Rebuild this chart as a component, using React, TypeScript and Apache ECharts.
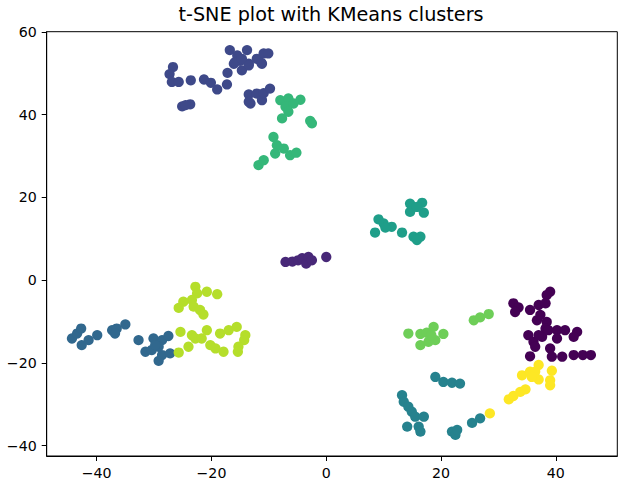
import React, { useEffect, useRef } from "react";
import * as echarts from "echarts";

const titleText = "t-SNE plot with KMeans clusters";
const xTicks = [-40, -20, 0, 20, 40];
const yTicks = [-40, -20, 0, 20, 40, 60];
const clusterColors = [
  "#440154", "#482878", "#3e4989", "#31688e", "#26828e",
  "#1f9e89", "#35b779", "#6ece58", "#b5de2b", "#fde725",
];

const cluster0 = [
  [39.0, -2.8], [38.4, -3.6], [32.6, -5.6], [33.5, -6.6], [32.9, -7.7], [35.5, -7.2],
  [37.0, -6.0], [38.2, -5.6], [36.7, -9.7], [38.4, -10.1], [38.2, -11.7], [35.2, -13.3],
  [36.1, -14.9], [36.4, -16.1], [35.5, -18.4], [37.6, -13.7], [38.7, -12.1], [40.2, -12.1],
  [40.2, -14.1], [41.6, -12.1], [43.7, -12.5], [43.1, -13.7], [39.0, -16.5], [39.3, -18.5],
  [41.1, -18.5], [43.1, -18.1], [44.7, -18.1], [46.1, -18.1], [37.3, -8.4], [37.0, -13.3],
];
const cluster1 = [
  [-7.1, 4.4], [-5.9, 4.5], [-4.9, 4.8], [-4.2, 5.3], [-3.5, 4.0], [-3.1, 5.6],
  [-2.5, 4.8], [0.0, 5.6],
];
const cluster2 = [
  [-26.7, 51.5], [-27.3, 49.8], [-26.9, 47.9], [-25.7, 47.9], [-23.6, 48.3], [-25.1, 42.0],
  [-23.7, 42.5], [-24.5, 42.3], [-21.3, 48.5], [-20.1, 47.7], [-19.0, 46.1], [-17.3, 47.3],
  [-17.2, 50.1], [-16.8, 55.6], [-16.1, 52.3], [-15.5, 54.3], [-14.7, 50.7], [-13.8, 55.6],
  [-13.5, 52.3], [-12.1, 53.5], [-11.2, 52.3], [-10.9, 54.8], [-10.1, 54.8], [-13.5, 44.9],
  [-13.2, 42.7], [-12.1, 45.1], [-11.2, 43.5], [-10.9, 45.2], [-9.8, 46.3], [-15.0, 53.0],
  [-15.9, 52.7], [-14.7, 53.5], [-13.5, 51.9], [-11.3, 52.5], [-13.5, 43.1],
];
const cluster3 = [
  [-44.3, -14.1], [-43.4, -12.9], [-42.7, -11.7], [-42.6, -15.7], [-41.4, -14.5], [-39.9, -13.3],
  [-37.3, -12.1], [-36.5, -11.7], [-35.0, -10.7], [-36.8, -12.9], [-32.7, -14.5], [-30.1, -14.1],
  [-28.6, -14.5], [-27.5, -13.5], [-31.5, -17.3], [-30.4, -16.9], [-29.2, -16.1], [-28.6, -18.1],
  [-27.2, -17.7], [-29.2, -19.5], [-29.8, -15.7],
];
const cluster4 = [
  [19.0, -23.4], [20.4, -24.6], [21.9, -24.8], [23.3, -25.0], [13.2, -27.8], [13.5, -29.4],
  [14.3, -30.6], [14.9, -31.8], [15.5, -33.0], [17.0, -33.0], [14.1, -35.4], [16.1, -35.4],
  [16.4, -36.6], [21.9, -36.6], [22.5, -37.4], [22.8, -36.2], [25.4, -34.5], [26.8, -33.4],
];
const cluster5 = [
  [14.6, 18.5], [16.7, 18.7], [14.6, 16.5], [17.0, 16.3], [15.8, 17.7], [9.1, 14.7],
  [10.0, 13.7], [11.4, 12.9], [8.5, 11.5], [13.2, 11.5], [15.2, 10.5], [16.4, 10.5],
  [15.8, 9.7], [10.3, 12.7],
];
const cluster6 = [
  [-8.0, 43.5], [-6.6, 43.9], [-4.5, 43.6], [-7.1, 41.9], [-5.7, 42.7], [-7.7, 39.1],
  [-6.6, 40.7], [-2.8, 38.5], [-2.5, 37.9], [-9.2, 34.6], [-8.6, 32.6], [-8.9, 30.6],
  [-7.4, 31.8], [-6.3, 30.2], [-5.2, 30.8], [-11.8, 27.8], [-10.9, 29.0],
];
const cluster7 = [
  [14.3, -12.9], [16.4, -13.0], [17.5, -12.7], [18.7, -11.3], [20.4, -13.0], [16.4, -15.7],
  [17.8, -14.9], [19.0, -14.5], [18.3, -13.3], [25.7, -9.7], [26.8, -9.0], [28.3, -8.2],
];
const cluster8 = [
  [-22.8, -1.6], [-22.5, -3.2], [-20.8, -2.8], [-19.0, -3.4], [-23.4, -4.8], [-24.9, -5.2],
  [-25.7, -6.7], [-23.1, -6.4], [-22.0, -7.2], [-21.4, -8.3], [-25.4, -12.5], [-23.4, -13.3],
  [-22.8, -14.1], [-20.8, -12.1], [-21.7, -14.1], [-20.2, -15.7], [-19.3, -16.5], [-17.9, -17.3],
  [-18.5, -12.9], [-17.0, -12.1], [-15.6, -11.3], [-14.1, -13.3], [-14.3, -14.5], [-15.3, -16.1],
  [-15.4, -17.3], [-24.0, -16.1], [-25.7, -17.5],
];
const cluster9 = [
  [28.5, -32.2], [31.8, -28.8], [32.6, -28.0], [33.8, -27.0], [34.7, -26.4], [34.1, -23.0],
  [35.5, -22.1], [37.0, -20.5], [36.4, -22.1], [37.0, -24.0], [35.8, -23.4], [39.3, -21.9],
  [39.0, -24.2], [39.0, -25.4],
];

const clusters = [
  cluster0, cluster1, cluster2, cluster3, cluster4,
  cluster5, cluster6, cluster7, cluster8, cluster9,
];

const fmt = (v: number) => String(v).replace("-", "\u2212");
const FONT = "DejaVu Sans";

export default function App() {
  const ref = useRef<HTMLDivElement>(null);
  useEffect(() => {
    if (!ref.current) return;
    const chart = echarts.init(ref.current, undefined, { renderer: "svg" });
    const axisCommon = {
      type: "value" as const,
      splitLine: { show: false },
      axisLine: { show: true, onZero: false, lineStyle: { color: "#000", width: 1 } },
      axisTick: { show: true, inside: false, length: 5, lineStyle: { color: "#000", width: 1 } },
    };
    chart.setOption({
      animation: false,
      backgroundColor: "#fff",
      title: {
        text: titleText,
        left: 331,
        top: 5,
        padding: 0,
        textAlign: "center",
        textStyle: { fontFamily: FONT, fontSize: 19.2, fontWeight: "normal", color: "#000" },
      },
      grid: {
        left: 46.7,
        right: 0.7,
        top: 31.7,
        bottom: 31,
        show: true,
        borderColor: "#000",
        borderWidth: 1,
        backgroundColor: "transparent",
      },
      xAxis: {
        ...axisCommon,
        min: -48.7,
        max: 50.7,
        axisTick: { ...axisCommon.axisTick, customValues: xTicks },
        axisLabel: {
          customValues: xTicks,
          formatter: fmt,
          margin: 10,
          color: "#000",
          fontFamily: FONT,
          fontSize: 14.2,
        },
      },
      yAxis: {
        ...axisCommon,
        min: -42.5,
        max: 60.05,
        axisTick: { ...axisCommon.axisTick, customValues: yTicks },
        axisLabel: {
          customValues: yTicks,
          formatter: fmt,
          margin: 10,
          color: "#000",
          fontFamily: FONT,
          fontSize: 14.2,
        },
      },
      series: clusters.map((pts, i) => ({
        type: "scatter",
        name: "cluster " + i,
        data: pts,
        symbol: "circle",
        symbolSize: 10.3,
        itemStyle: { color: clusterColors[i], opacity: 1 },
        emphasis: { disabled: true },
      })),
    });
    return () => chart.dispose();
  }, []);
  return (
    <div
      ref={ref}
      style={{ position: "absolute", left: 0, top: 0, width: 618, height: 487 }}
    />
  );
}
